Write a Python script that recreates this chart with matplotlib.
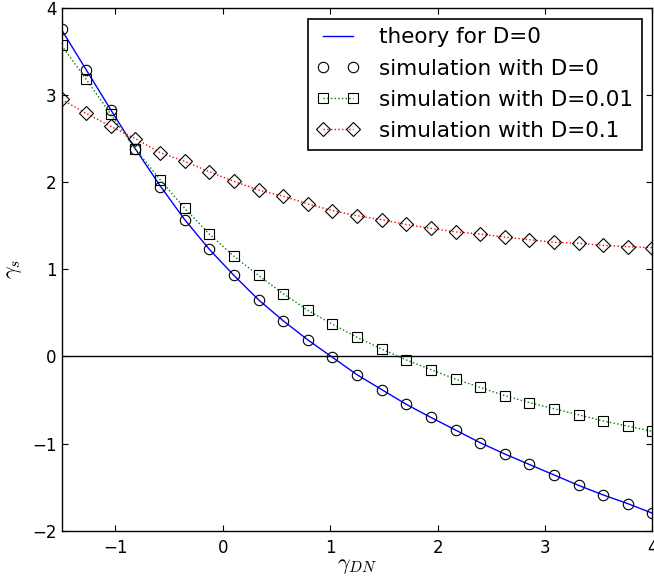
import numpy as np
import matplotlib
matplotlib.use("Agg")
import matplotlib.pyplot as plt

plt.rcParams["mathtext.fontset"] = "cm"

gamma_dn = np.linspace(-1.5, 4.0, 25)

theory_d0 = [3.75, 3.29, 2.83, 2.38, 1.96, 1.57, 1.23, 0.93, 0.65, 0.41, 0.19, -0.01,
             -0.21, -0.38, -0.55, -0.70, -0.845, -0.99, -1.12, -1.24, -1.36, -1.48,
             -1.59, -1.69, -1.80]
sim_d0 = [3.76, 3.29, 2.83, 2.38, 1.95, 1.57, 1.23, 0.93, 0.65, 0.41, 0.19, -0.01,
          -0.21, -0.38, -0.55, -0.70, -0.845, -0.99, -1.12, -1.24, -1.36, -1.48,
          -1.59, -1.69, -1.80]
sim_d001 = [3.57, 3.18, 2.78, 2.38, 2.03, 1.70, 1.405, 1.15, 0.93, 0.72, 0.53, 0.37,
            0.22, 0.085, -0.04, -0.15, -0.26, -0.355, -0.45, -0.53, -0.60, -0.67,
            -0.74, -0.80, -0.86]
sim_d01 = [2.95, 2.79, 2.64, 2.50, 2.34, 2.24, 2.12, 2.01, 1.91, 1.84, 1.75, 1.675,
           1.615, 1.57, 1.515, 1.47, 1.43, 1.405, 1.37, 1.34, 1.31, 1.30, 1.275,
           1.26, 1.25]

labels = ["theory for D=0", "simulation with D=0", "simulation with D=0.01",
          "simulation with D=0.1"]

fig = plt.figure(figsize=(6.54, 5.84), dpi=100)
ax = fig.add_axes([0.0942, 0.0913, 0.9035, 0.895])

ax.axhline(0, color="black", lw=1.0, zorder=1)
ax.plot(gamma_dn, theory_d0, "-", color="blue", lw=1.0, label=labels[0], zorder=2)
ax.plot(gamma_dn, sim_d0, "o", ls="none", mfc="none", mec="black", ms=7.5, mew=0.8,
        label=labels[1], zorder=3)
ax.plot(gamma_dn, sim_d001, "s", ls=":", color="green", mfc="none", mec="black",
        ms=7.5, mew=0.8, lw=1.0, label=labels[2], zorder=3)
ax.plot(gamma_dn, sim_d01, "D", ls=":", color="red", mfc="none", mec="black",
        ms=7.0, mew=0.8, lw=1.0, label=labels[3], zorder=3)

ax.set_xlim(-1.5, 4)
ax.set_ylim(-2, 4)
ax.set_xticks([-1, 0, 1, 2, 3, 4])
ax.set_yticks([-2, -1, 0, 1, 2, 3, 4])
ax.tick_params(direction="in", length=4.5, width=0.8, top=True, right=True,
               labelsize=12)
ax.tick_params(axis="x", pad=6)
ax.tick_params(axis="y", pad=3.5)
for s in ax.spines.values():
    s.set_linewidth(1.0)

ax.set_xlabel(r"$\gamma_{DN}$", fontsize=16, labelpad=-1)
ax.set_ylabel(r"$\gamma_s$", fontsize=16, labelpad=6)

leg = ax.legend(loc="upper right", numpoints=2, fontsize=15.5, fancybox=False,
                framealpha=1, edgecolor="black", borderaxespad=0.5,
                labelspacing=0.52, handlelength=2.0, handletextpad=0.9,
                borderpad=0.4)
leg.get_frame().set_linewidth(1.2)

fig.savefig("out.png", dpi=100)
